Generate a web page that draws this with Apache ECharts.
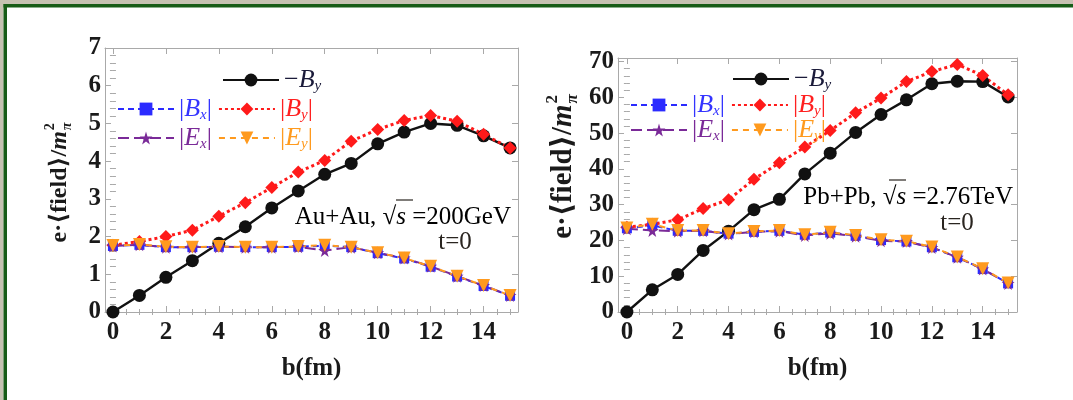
<!DOCTYPE html>
<html>
<head>
<meta charset="utf-8">
<script src="https://cdn.jsdelivr.net/npm/echarts@6/dist/echarts.min.js"></script>
<style>
  html, body { margin: 0; padding: 0; background: #ffffff; }
  #chart { width: 1073px; height: 400px; }
</style>
</head>
<body>
<div id="chart"></div>
<script>
// Impact parameter b (fm)
const impactParam = [0, 1, 2, 3, 4, 5, 6, 7, 8, 9, 10, 11, 12, 13, 14, 15];
const xTickLabels = [0, 2, 4, 6, 8, 10, 12, 14];

// Au+Au, sqrt(s) = 200 GeV, t = 0  (units of m_pi^2)
const auNegBy = [0, 0.44, 0.92, 1.36, 1.82, 2.26, 2.76, 3.21, 3.65, 3.94, 4.46, 4.77, 5.0, 4.95, 4.67, 4.35];
const auAbsBx = [1.75, 1.78, 1.72, 1.72, 1.73, 1.72, 1.72, 1.73, 1.76, 1.72, 1.56, 1.42, 1.2, 0.94, 0.69, 0.43];
const auAbsBy = [1.77, 1.87, 2.0, 2.17, 2.54, 2.9, 3.3, 3.71, 4.02, 4.53, 4.84, 5.08, 5.21, 5.06, 4.71, 4.35];
const auAbsEx = [1.75, 1.78, 1.72, 1.72, 1.73, 1.72, 1.72, 1.73, 1.63, 1.72, 1.57, 1.43, 1.21, 0.95, 0.7, 0.44];
const auAbsEy = [1.76, 1.79, 1.73, 1.72, 1.74, 1.72, 1.72, 1.74, 1.77, 1.72, 1.57, 1.43, 1.21, 0.95, 0.7, 0.44];
const auYTicks = [0, 1, 2, 3, 4, 5, 6, 7];

// Pb+Pb, sqrt(s) = 2.76 TeV, t = 0
const pbNegBy = [0, 6.2, 10.5, 17.2, 22.6, 28.6, 31.5, 38.6, 44.4, 50.2, 55.2, 59.3, 63.8, 64.5, 64.4, 60.1];
const pbAbsBx = [23.4, 24.2, 22.7, 22.7, 21.9, 22.4, 22.7, 21.6, 22.2, 21.3, 20.1, 19.7, 18.1, 15.3, 12.0, 8.0];
const pbAbsBy = [23.7, 24.5, 25.8, 28.9, 31.4, 37.1, 41.7, 46.1, 50.7, 55.7, 59.8, 64.4, 67.2, 69.2, 66.1, 60.7];
const pbAbsEx = [23.3, 22.8, 22.6, 22.7, 21.8, 22.4, 22.6, 21.4, 22.0, 21.2, 19.9, 19.7, 18.0, 15.3, 12.0, 8.0];
const pbAbsEy = [23.5, 24.5, 22.8, 22.8, 21.9, 22.5, 22.8, 21.6, 22.3, 21.4, 20.2, 19.8, 18.2, 15.4, 12.1, 8.1];
const pbYTicks = [0, 10, 20, 30, 40, 50, 60, 70];

const SERIF = '"Liberation Serif", "DejaVu Serif", serif';
const FRAME = '#a9a9a9';
const STAR = 'path://M50,0 L61,35 L98,35 L68,57 L79,91 L50,70 L21,91 L32,57 L2,35 L39,35 Z';

const styles = {
  '−By':  { color: '#111111', line: 'solid', width: 2.4, symbol: 'circle', size: 13, rotate: 0 },
  '|Bx|': { color: '#2b2bff', line: [6, 4], width: 2, symbol: 'rect', size: 10, rotate: 0 },
  '|By|': { color: '#ff1a1a', line: [3, 3], width: 3, symbol: 'diamond', size: 13, rotate: 0 },
  '|Ex|': { color: '#7a2a98', line: [11, 5], width: 2, symbol: STAR, size: 13, rotate: 0 },
  '|Ey|': { color: '#ff9a1e', line: [6, 5], width: 2, symbol: 'triangle', size: 13, rotate: 180 }
};

function range(from, to, step, skipEvery) {
  const out = [];
  for (let v = from; v <= to + 1e-9; v += step) {
    const r = Math.round(v * 1000) / 1000;
    if (skipEvery && Math.abs(r / skipEvery - Math.round(r / skipEvery)) < 1e-6) continue;
    out.push(r);
  }
  return out;
}

const panels = [
  { grid: { left: 105, top: 48, width: 413, height: 264 }, xMin: -0.3, xMax: 15.3, yMin: 0, yMax: 7,
    yTicks: auYTicks, yMinor: range(0.2, 6.8, 0.2, 1),
    data: { '−By': auNegBy, '|Bx|': auAbsBx, '|By|': auAbsBy, '|Ex|': auAbsEx, '|Ey|': auAbsEy } },
  { grid: { left: 618, top: 58, width: 399, height: 254 }, xMin: -0.35, xMax: 15.35, yMin: 0, yMax: 71,
    yTicks: pbYTicks, yMinor: range(2, 70, 2, 10),
    data: { '−By': pbNegBy, '|Bx|': pbAbsBx, '|By|': pbAbsBy, '|Ex|': pbAbsEx, '|Ey|': pbAbsEy } }
];
const xMinor = range(0.5, 15, 0.5, 2);

const tickFont = { fontFamily: SERIF, fontWeight: 'bold', fontSize: 25, color: '#1a1a1a' };

const grids = [], xAxes = [], yAxes = [], series = [];
panels.forEach(function (p, g) {
  grids.push(Object.assign({ containLabel: false }, p.grid));
  const xBase = { type: 'value', gridIndex: g, min: p.xMin, max: p.xMax, splitLine: { show: false } };
  const yBase = { type: 'value', gridIndex: g, min: p.yMin, max: p.yMax, splitLine: { show: false } };
  const mainX = xAxes.length;
  xAxes.push(Object.assign({}, xBase, {
    position: 'bottom',
    axisLine: { show: true, onZero: false, lineStyle: { color: FRAME, width: 1 } },
    axisTick: { show: true, inside: true, length: 6, customValues: xTickLabels, lineStyle: { color: FRAME } },
    axisLabel: Object.assign({ show: true, margin: 8, customValues: xTickLabels }, tickFont),
    name: 'b(fm)', nameLocation: 'middle', nameGap: 44,
    nameTextStyle: { fontFamily: SERIF, fontWeight: 'bold', fontSize: 25, color: '#1a1a1a' }
  }));
  xAxes.push(Object.assign({}, xBase, {
    position: 'bottom', axisLine: { show: false },
    axisTick: { show: true, inside: true, length: 3, customValues: xMinor, lineStyle: { color: FRAME } },
    axisLabel: { show: false }
  }));
  xAxes.push(Object.assign({}, xBase, {
    position: 'top',
    axisLine: { show: true, onZero: false, lineStyle: { color: FRAME, width: 1 } },
    axisTick: { show: true, inside: true, length: 6, customValues: xTickLabels, lineStyle: { color: FRAME } },
    axisLabel: { show: false }
  }));
  xAxes.push(Object.assign({}, xBase, {
    position: 'top', axisLine: { show: false },
    axisTick: { show: true, inside: true, length: 3, customValues: xMinor, lineStyle: { color: FRAME } },
    axisLabel: { show: false }
  }));
  const mainY = yAxes.length;
  yAxes.push(Object.assign({}, yBase, {
    position: 'left',
    axisLine: { show: true, onZero: false, lineStyle: { color: FRAME, width: 1 } },
    axisTick: { show: true, inside: true, length: 6, customValues: p.yTicks, lineStyle: { color: FRAME } },
    axisLabel: Object.assign({ show: true, margin: 4, customValues: p.yTicks }, tickFont)
  }));
  yAxes.push(Object.assign({}, yBase, {
    position: 'left', axisLine: { show: false },
    axisTick: { show: true, inside: true, length: 3, customValues: p.yMinor, lineStyle: { color: FRAME } },
    axisLabel: { show: false }
  }));
  yAxes.push(Object.assign({}, yBase, {
    position: 'right',
    axisLine: { show: true, onZero: false, lineStyle: { color: FRAME, width: 1 } },
    axisTick: { show: true, inside: true, length: 6, customValues: p.yTicks, lineStyle: { color: FRAME } },
    axisLabel: { show: false }
  }));
  yAxes.push(Object.assign({}, yBase, {
    position: 'right', axisLine: { show: false },
    axisTick: { show: true, inside: true, length: 3, customValues: p.yMinor, lineStyle: { color: FRAME } },
    axisLabel: { show: false }
  }));

  ['−By', '|By|', '|Bx|', '|Ex|', '|Ey|'].forEach(function (name) {
    const s = styles[name];
    series.push({
      type: 'line', name: name, xAxisIndex: mainX, yAxisIndex: mainY,
      data: impactParam.map(function (b, i) { return [b, p.data[name][i]]; }),
      symbol: s.symbol, symbolSize: s.size, symbolRotate: s.rotate,
      showAllSymbol: true, clip: false,
      lineStyle: { color: s.color, width: s.width, type: s.line },
      itemStyle: { color: s.color },
      emphasis: { disabled: true }
    });
  });
});

// Legend labels: plain bars/minus, italic field symbol, small subscript
function legendRich() {
  const rich = {};
  const cols = { k: '#1b1b3a', b: '#3434ff', r: '#ff2020', p: '#7a2a98', o: '#ff9a1e' };
  Object.keys(cols).forEach(function (k) {
    rich['n' + k] = { color: cols[k], fontFamily: SERIF, fontSize: 26, lineHeight: 28, verticalAlign: 'middle' };
    rich['i' + k] = { color: cols[k], fontFamily: SERIF, fontSize: 26, fontStyle: 'italic', lineHeight: 28, verticalAlign: 'middle' };
    rich['s' + k] = { color: cols[k], fontFamily: SERIF, fontSize: 15, fontStyle: 'italic', lineHeight: 13, verticalAlign: 'bottom' };
  });
  return rich;
}
function legendLabel(name) {
  switch (name) {
    case '−By':  return '{nk|−}{ik|B}{sk|y}';
    case '|Bx|': return '{nb||}{ib|B}{sb|x}{nb||}';
    case '|By|': return '{nr||}{ir|B}{sr|y}{nr||}';
    case '|Ex|': return '{np||}{ip|E}{sp|x}{np||}';
    case '|Ey|': return '{no||}{io|E}{so|y}{no||}';
  }
  return name;
}
function legendRow(names, left, top) {
  return {
    show: true, orient: 'horizontal', left: left, top: top, padding: 0,
    itemWidth: 56, itemHeight: 16, itemGap: 6, selectedMode: false,
    data: names, formatter: legendLabel,
    textStyle: { rich: legendRich(), fontFamily: SERIF, fontSize: 26 }
  };
}
const legends = [
  legendRow(['−By'], 222, 67),
  legendRow(['|Bx|', '|By|'], 117, 96),
  legendRow(['|Ex|', '|Ey|'], 117, 125),
  legendRow(['−By'], 732, 66),
  legendRow(['|Bx|', '|By|'], 630, 92),
  legendRow(['|Ex|', '|Ey|'], 630, 117)
];

// Rotated vertical axis title: e·⟨field⟩/m_π^2 with stacked super/subscript
const measureCtx = document.createElement('canvas').getContext('2d');
function textWidth(str, font) { measureCtx.font = font; return measureCtx.measureText(str).width; }
function yTitle(cx, cy, size) {
  const fMain = 'bold ' + size + 'px ' + SERIF;
  const fM = 'italic bold ' + size + 'px ' + SERIF;
  const small = Math.round(size * 0.6);
  const main = 'e·⟨field⟩/';
  const wMain = textWidth(main, fMain);
  const wM = textWidth('m', fM);
  const wS = Math.max(textWidth('2', 'bold ' + small + 'px ' + SERIF), textWidth('π', 'italic bold ' + small + 'px ' + SERIF));
  const x0 = -(wMain + wM + wS) / 2;
  const fill = '#1a1a1a';
  return {
    type: 'group', x: cx, y: cy, rotation: Math.PI / 2,
    children: [
      { type: 'text', x: x0, y: 0, style: { text: main, font: fMain, fill: fill, align: 'left', verticalAlign: 'middle' } },
      { type: 'text', x: x0 + wMain, y: 0, style: { text: 'm', font: fM, fill: fill, align: 'left', verticalAlign: 'middle' } },
      { type: 'text', x: x0 + wMain + wM + 1, y: -size * 0.38, style: { text: '2', font: 'bold ' + small + 'px ' + SERIF, fill: fill, align: 'left', verticalAlign: 'middle' } },
      { type: 'text', x: x0 + wMain + wM + 1, y: size * 0.3, style: { text: 'π', font: 'italic bold ' + small + 'px ' + SERIF, fill: fill, align: 'left', verticalAlign: 'middle' } }
    ]
  };
}

function annotation(rightX, cy, label, tX, tY, barX1, barX2, barY) {
  const annRich = {
    a: { fontFamily: SERIF, fontSize: 25, color: '#2a2520' },
    i: { fontFamily: SERIF, fontSize: 25, fontStyle: 'italic', color: '#2a2520' }
  };
  return [
    { type: 'text', x: rightX, y: cy,
      style: { text: '{a|' + label[0] + ' √}{i|s}{a| =' + label[1] + '}', rich: annRich, align: 'right', verticalAlign: 'middle' } },
    { type: 'line', shape: { x1: barX1, y1: barY, x2: barX2, y2: barY }, style: { stroke: '#2a2520', lineWidth: 1.2 } },
    { type: 'text', x: tX, y: tY,
      style: { text: 't=0', font: '25px ' + SERIF, fill: '#2a2520', align: 'center', verticalAlign: 'middle' } }
  ];
}

const graphics = [
  { type: 'rect', shape: { x: 0, y: 0, width: 1073, height: 4 }, style: { fill: '#c6c2b2' }, silent: true },
  { type: 'rect', shape: { x: 0, y: 0, width: 3.5, height: 400 }, style: { fill: '#c6c2b2' }, silent: true },
  { type: 'rect', shape: { x: 3.5, y: 4, width: 1069.5, height: 3.5 }, style: { fill: '#175c17' }, silent: true },
  { type: 'rect', shape: { x: 3.5, y: 4, width: 3.5, height: 396 }, style: { fill: '#175c17' }, silent: true },
  yTitle(60, 183, 24),
  yTitle(564, 167, 29)
].concat(
  annotation(511, 217, ['Au+Au,', '200GeV'], 455, 242, 396, 413, 200),
  annotation(1013, 197, ['Pb+Pb,', '2.76TeV'], 957, 223, 889, 906, 180)
);

const chart = echarts.init(document.getElementById('chart'), null, { renderer: 'canvas' });
chart.setOption({
  backgroundColor: '#ffffff',
  animation: false,
  grid: grids,
  xAxis: xAxes,
  yAxis: yAxes,
  legend: legends,
  series: series,
  graphic: graphics
});
</script>
</body>
</html>
